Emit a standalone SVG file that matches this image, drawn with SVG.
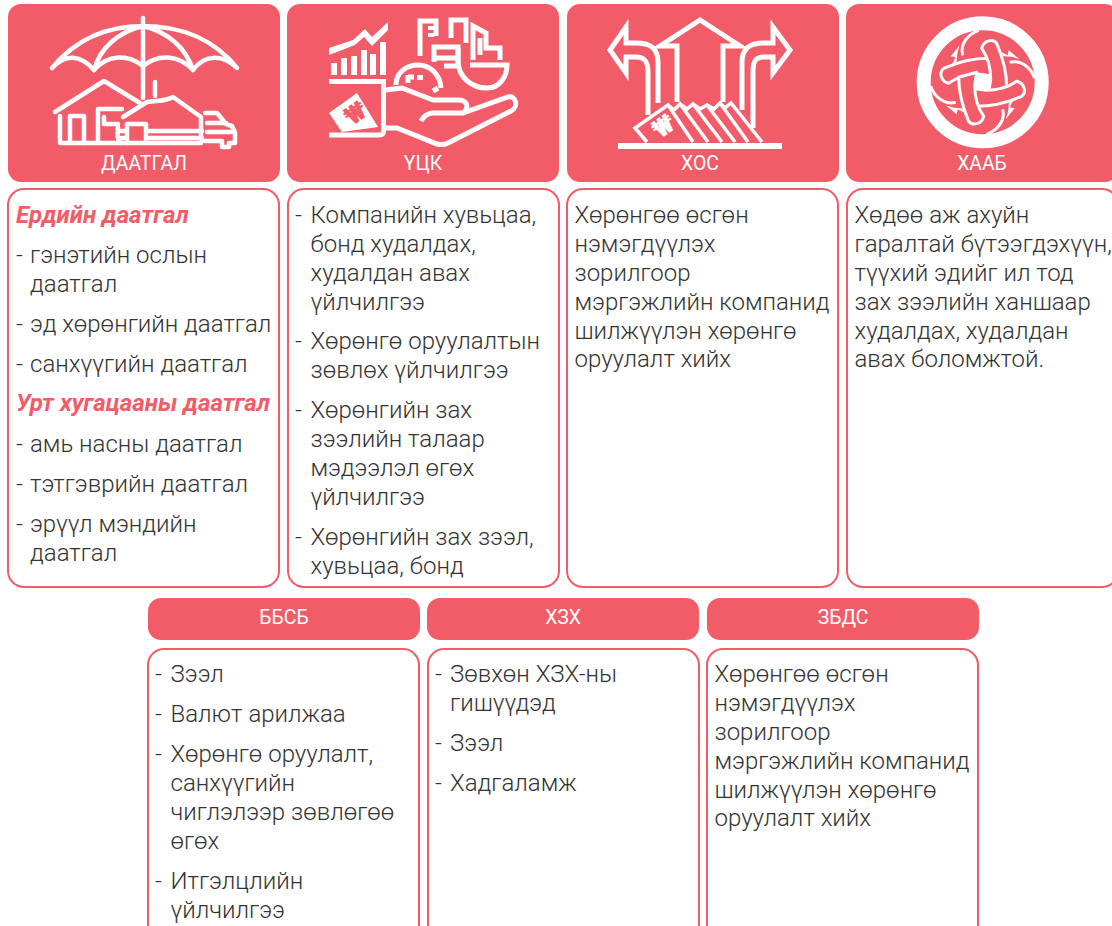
<svg xmlns="http://www.w3.org/2000/svg" width="1112" height="926" viewBox="0 0 1112 926">
<style>
.hd{fill:#f25c69}
.bx{fill:#fff;stroke:#f25c69;stroke-width:2}
text{font-family:Roboto,"Liberation Sans",sans-serif}
.t{font-size:24px;font-weight:300;fill:#333}
.it{font-size:24px;font-weight:700;font-style:italic;fill:#f25c69}
.h{font-size:19.400px;font-weight:400;fill:#fff;text-anchor:middle}
.ic{fill:none;stroke:#fff;stroke-width:5;stroke-linejoin:miter}
.icr{fill:none;stroke:#fff;stroke-width:4.5;stroke-linecap:round;stroke-linejoin:round}
.f{fill:#fff}
.kn{fill:#f25c69;stroke:#fff;stroke-width:3;stroke-linejoin:round}
.kl{fill:none;stroke:#fff;stroke-width:3}
</style>
<defs>
<g id="arm">
<path class="kl" d="M-4 -52C-15 -48 -23 -38 -20 -27"/>
<path class="f" d="M-23 -37L-32 -26L-27 -25L-31 -17L-26 -21C-26 -27 -25 -32 -23 -37Z"/>
</g>
<path id="band" class="kn" d="M-39 -14C-25 -20 -8 -24 5 -24L10 -6L-3 -8C-16 -8 -27 -4 -34 1C-42 -1 -44 -10 -39 -14Z"/>
</defs>
<rect width="1112" height="926" fill="#fff"/>
<g id="node-daatgal">
<rect class="hd" x="8" y="4" width="272" height="178" rx="13"/>
<g class="icr">
<path d="M143 18V98M52 68C75 40 105 26 143 26C182 26 215 40 237 68C223 54 205 54 193 70C178 54 158 54 143 66C128 54 108 54 94 70C80 54 65 54 52 68Z"/>
<path d="M94 70C100 48 118 32 143 26C168 32 186 48 193 70"/>
<path d="M55 112L104 81L140 103M155 82V96M123 117L147 102C157 100 165 102 173 97L201 117V143H60V116"/>
<path d="M70 143V116H84V143M98 143V109H122M104 117V124H118"/>
<path d="M127 143V124H146V143M118 127C117 134 118 140 120 143M147 131H202M147 138H202M118 131H127M118 138H127"/>
<path d="M205 113H217L226 124L232 126L235 133V143H229V147H222V141H205M207 123H226M207 132H231"/>
</g>
<text class="h" x="144" y="170">ДААТГАЛ</text>
</g>
<g id="node-uck">
<rect class="hd" x="287" y="4" width="272" height="178" rx="13"/>
<path class="f" d="M331 63H337V75H331ZM341 58H347V75H341ZM351 56H357V75H351ZM361 50H367V75H361ZM370 54H376V75H370ZM380 42H386V75H380ZM329 79H386V84H329ZM329 48L353 40L365 29L372 37L388 22V30L372 46L364 37L355 45L329 55Z"/>
<path class="f" d="M329 113L357 93L378 127L342 132Z"/>
<text x="356" y="122" font-size="26" text-anchor="middle" fill="#f25c69" font-weight="900" transform="rotate(-35 356 114)">₩</text>
<g class="ic">
<path d="M383.500 80V131C383.500 134 382 135 379 135H329"/>
<path d="M386 90L402 88L433 100H458C467 100 470 107 463 113L432 113C426 114 423 117 421 121"/>
<path d="M463 113L508 97C516 95 519 107 511 111L448 143C444 145 441 145 437 144L397 128H386"/>
<path d="M396 85C396 72 407 65 418 65C430 65 440 74 441 88"/>
<path d="M408 83V75M408 77H414M433 91L438 88"/>
<path d="M420 56V21H436V36M434 62V47H458V66H444M436 58H458M451 38V20H466V43"/>
<path d="M458 48V62C459 78 472 88 487 88C500 88 507 76 507 65H470"/>
<path d="M473 60V26L486 33V48H500V60M480 38V55"/>
</g>
<path class="f" d="M428 26H434V30H428ZM428 33H434V37H428ZM417 75H423V80H417Z"/>
<text class="h" x="423" y="170">ҮЦК</text>
</g>
<g id="node-hos">
<rect class="hd" x="567" y="4" width="272" height="178" rx="13"/>
<g class="ic">
<path d="M658 103V62C658 48 650 43 636 43H626V27L610 50L626 73V57H636C645 57 648 62 648 72V115"/>
<path d="M742 110V62C742 48 750 43 764 43H773V27L790 50L773 73V57H764C755 57 753 62 753 72V128"/>
<path d="M677 102V46H660L700 20L740 46H723V102"/>
<path d="M647 142L635 128L668 105L693 142M668 105L674 110L680 104L708 142M680 104L687 109L693 104L722 142M693 104L700 109L707 105L735 142M707 105L714 109L720 103L748 142M720 103L725 108L731 103L762 142" stroke-width="3.500"/>
</g>
<rect class="f" x="618" y="143" width="164" height="6"/>
<text x="664" y="135" font-size="26" text-anchor="middle" fill="#fff" font-weight="900" transform="rotate(-35 664 127)">₩</text>
<text class="h" x="700" y="170">ХОС</text>
</g>
<g id="node-haab">
<rect class="hd" x="846" y="4" width="272" height="178" rx="13"/>
<circle cx="982.700" cy="82.300" r="59" fill="none" stroke="#fff" stroke-width="14"/>
<g transform="translate(982.700 82.300)">
<circle r="15" class="f"/>
<use href="#arm"/><use href="#arm" transform="rotate(90)"/><use href="#arm" transform="rotate(180)"/><use href="#arm" transform="rotate(270)"/>
<use href="#band"/><use href="#band" transform="rotate(90)"/><use href="#band" transform="rotate(180)"/><use href="#band" transform="rotate(270)"/>
</g>
<text class="h" x="982" y="170">ХААБ</text>
</g>
<g id="box-daatgal">
<rect class="bx" x="8" y="189" width="271" height="398" rx="16"/>
<text class="it" x="16" y="223">Ердийн даатгал</text>
<text class="t" x="16" y="263">-</text><text class="t" x="30" y="263">гэнэтийн ослын</text>
<text class="t" x="30" y="292">даатгал</text>
<text class="t" x="16" y="332">-</text><text class="t" x="30" y="332">эд хөрөнгийн даатгал</text>
<text class="t" x="16" y="372">-</text><text class="t" x="30" y="372">санхүүгийн даатгал</text>
<text class="it" x="16" y="411">Урт хугацааны даатгал</text>
<text class="t" x="16" y="452">-</text><text class="t" x="30" y="452">амь насны даатгал</text>
<text class="t" x="16" y="492">-</text><text class="t" x="30" y="492">тэтгэврийн даатгал</text>
<text class="t" x="16" y="532">-</text><text class="t" x="30" y="532">эрүүл мэндийн</text>
<text class="t" x="30" y="561">даатгал</text>
</g>
<g id="box-uck">
<rect class="bx" x="288" y="189" width="271" height="398" rx="16"/>
<text class="t" x="295" y="223">-</text><text class="t" x="310.500" y="223">Компанийн хувьцаа,</text>
<text class="t" x="310.500" y="252">бонд худалдах,</text>
<text class="t" x="310.500" y="281">худалдан авах</text>
<text class="t" x="310.500" y="310">үйлчилгээ</text>
<text class="t" x="295" y="349">-</text><text class="t" x="310.500" y="349">Хөрөнгө оруулалтын</text>
<text class="t" x="310.500" y="378">зөвлөх үйлчилгээ</text>
<text class="t" x="295" y="418">-</text><text class="t" x="310.500" y="418">Хөрөнгийн зах</text>
<text class="t" x="310.500" y="447">зээлийн талаар</text>
<text class="t" x="310.500" y="476">мэдээлэл өгөх</text>
<text class="t" x="310.500" y="505">үйлчилгээ</text>
<text class="t" x="295" y="545">-</text><text class="t" x="310.500" y="545">Хөрөнгийн зах зээл,</text>
<text class="t" x="310.500" y="574">хувьцаа, бонд</text>
</g>
<g id="box-hos">
<rect class="bx" x="567" y="189" width="271" height="398" rx="16"/>
<text class="t" x="574.500" y="223">Хөрөнгөө өсгөн</text>
<text class="t" x="574.500" y="252">нэмэгдүүлэх</text>
<text class="t" x="574.500" y="281">зорилгоор</text>
<text class="t" x="574.500" y="310">мэргэжлийн компанид</text>
<text class="t" x="574.500" y="339">шилжүүлэн хөрөнгө</text>
<text class="t" x="574.500" y="367">оруулалт хийх</text>
</g>
<g id="box-haab">
<rect class="bx" x="847" y="189" width="271" height="398" rx="16"/>
<text class="t" x="854.500" y="223">Хөдөө аж ахуйн</text>
<text class="t" x="854.500" y="252">гаралтай бүтээгдэхүүн,</text>
<text class="t" x="854.500" y="281">түүхий эдийг ил тод</text>
<text class="t" x="854.500" y="310">зах зээлийн ханшаар</text>
<text class="t" x="854.500" y="339">худалдах, худалдан</text>
<text class="t" x="854.500" y="367">авах боломжтой.</text>
</g>
<g id="node-bbsb">
<rect class="hd" x="148" y="598" width="272" height="42" rx="13"/>
<text class="h" x="284" y="624">ББСБ</text>
</g>
<g id="node-hzh">
<rect class="hd" x="427" y="598" width="272" height="42" rx="13"/>
<text class="h" x="563" y="624">ХЗХ</text>
</g>
<g id="node-zbds">
<rect class="hd" x="707" y="598" width="272" height="42" rx="13"/>
<text class="h" x="843" y="624">ЗБДС</text>
</g>
<g id="box-bbsb">
<rect class="bx" x="148" y="649" width="271" height="398" rx="16"/>
<text class="t" x="155" y="682">-</text><text class="t" x="170.500" y="682">Зээл</text>
<text class="t" x="155" y="722">-</text><text class="t" x="170.500" y="722">Валют арилжаа</text>
<text class="t" x="155" y="762">-</text><text class="t" x="170.500" y="762">Хөрөнгө оруулалт,</text>
<text class="t" x="170.500" y="791">санхүүгийн</text>
<text class="t" x="170.500" y="820">чиглэлээр зөвлөгөө</text>
<text class="t" x="170.500" y="849">өгөх</text>
<text class="t" x="155" y="889">-</text><text class="t" x="170.500" y="889">Итгэлцлийн</text>
<text class="t" x="170.500" y="918">үйлчилгээ</text>
</g>
<g id="box-hzh">
<rect class="bx" x="428" y="649" width="271" height="398" rx="16"/>
<text class="t" x="435" y="682">-</text><text class="t" x="450" y="682">Зөвхөн ХЗХ-ны</text>
<text class="t" x="450" y="711">гишүүдэд</text>
<text class="t" x="435" y="751">-</text><text class="t" x="450" y="751">Зээл</text>
<text class="t" x="435" y="791">-</text><text class="t" x="450" y="791">Хадгаламж</text>
</g>
<g id="box-zbds">
<rect class="bx" x="707" y="649" width="271" height="398" rx="16"/>
<text class="t" x="714.500" y="682">Хөрөнгөө өсгөн</text>
<text class="t" x="714.500" y="711">нэмэгдүүлэх</text>
<text class="t" x="714.500" y="740">зорилгоор</text>
<text class="t" x="714.500" y="769">мэргэжлийн компанид</text>
<text class="t" x="714.500" y="798">шилжүүлэн хөрөнгө</text>
<text class="t" x="714.500" y="826">оруулалт хийх</text>
</g>
</svg>
